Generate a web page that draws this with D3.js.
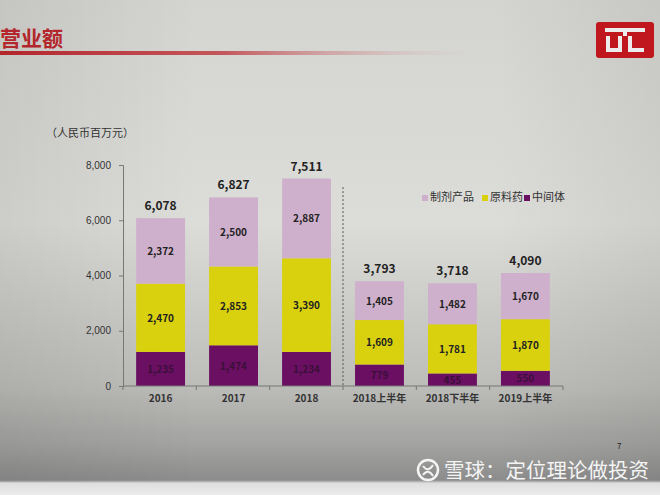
<!DOCTYPE html>
<html>
<head>
<meta charset="utf-8">
<script src="https://cdn.jsdelivr.net/npm/d3@7"></script>
<style>
  body { margin: 0; padding: 0; overflow: hidden; }
  svg { display: block; font-family: "Noto Sans CJK SC", "Noto Sans", sans-serif; }
</style>
</head>
<body>
<svg width="660" height="495"></svg>
<script>
const categories = ["2016", "2017", "2018", "2018上半年", "2018下半年", "2019上半年"];
const seriesNames = ["中间体", "原料药", "制剂产品"];
const intermediate = [1235, 1474, 1234, 779, 455, 550];
const api = [2470, 2853, 3390, 1609, 1781, 1870];
const formulation = [2372, 2500, 2887, 1405, 1482, 1670];
const totals = [6078, 6827, 7511, 3793, 3718, 4090];
const yTicks = [0, 2000, 4000, 6000, 8000];
const legendOrder = ["制剂产品", "原料药", "中间体"];

const colors = d3.scaleOrdinal()
  .domain(seriesNames)
  .range(["#6b0f63", "#d9d10e", "#cfb0cc"]);

let svg = d3.select("svg");
let defs = svg.append("defs");

// photo-like page background
let bg = defs.append("linearGradient").attr("id", "bg").attr("x1", 0).attr("y1", 0).attr("x2", 0).attr("y2", 1);
bg.append("stop").attr("offset", "0%").attr("stop-color", "#d4d5d1");
bg.append("stop").attr("offset", "45%").attr("stop-color", "#dcdcd8");
bg.append("stop").attr("offset", "78%").attr("stop-color", "#bcbcb9");
bg.append("stop").attr("offset", "90%").attr("stop-color", "#a2a2a0");
bg.append("stop").attr("offset", "97%").attr("stop-color", "#8c8c8c");
bg.append("stop").attr("offset", "97.6%").attr("stop-color", "#dedede");
bg.append("stop").attr("offset", "100%").attr("stop-color", "#ececec");

let lg = defs.append("linearGradient").attr("id", "redline").attr("x1", 0).attr("y1", 0).attr("x2", 1).attr("y2", 0);
lg.append("stop").attr("offset", "0%").attr("stop-color", "#b3262c");
lg.append("stop").attr("offset", "45%").attr("stop-color", "#c4585c");
lg.append("stop").attr("offset", "100%").attr("stop-color", "#d8d8d8").attr("stop-opacity", 0);

let sideShade = defs.append("linearGradient").attr("id", "side").attr("x1", 0).attr("y1", 0).attr("x2", 1).attr("y2", 0);
sideShade.append("stop").attr("offset", "0%").attr("stop-color", "#000").attr("stop-opacity", 0.07);
sideShade.append("stop").attr("offset", "30%").attr("stop-color", "#000").attr("stop-opacity", 0);
sideShade.append("stop").attr("offset", "75%").attr("stop-color", "#000").attr("stop-opacity", 0);
sideShade.append("stop").attr("offset", "100%").attr("stop-color", "#000").attr("stop-opacity", 0.06);

svg.append("rect").attr("width", 660).attr("height", 495).attr("fill", "url(#bg)");
svg.append("rect").attr("width", 660).attr("height", 482).attr("fill", "url(#side)");

// header
svg.append("text").attr("x", 0).attr("y", 46)
  .attr("fill", "#b3262c").attr("font-size", 21).attr("font-weight", "bold")
  .text("营业额");
svg.append("rect").attr("x", 0).attr("y", 51).attr("width", 500).attr("height", 4).attr("fill", "url(#redline)");

// logo
let logo = svg.append("g").attr("transform", "translate(596,22)");
logo.append("rect").attr("width", 58).attr("height", 36).attr("rx", 3).attr("fill", "#c0161e");
logo.append("path").attr("fill", "#ececec")
  .attr("d", "M9,6 H49 V10 H31 V14 H27 V10 H9 Z M10,14 H14 V26 H22 V14 H26 V30 H10 Z M32,14 H36 V26 H48 V30 H32 Z");

// chart
let margin = {top: 165, left: 123};
let width = 440, height = 221;
let g = svg.append("g").attr("transform", "translate(" + margin.left + "," + margin.top + ")");

let x = d3.scaleBand().domain(categories).range([0, width]).paddingInner(0.33).paddingOuter(0.18);
let y = d3.scaleLinear().domain([0, 8000]).range([height, 0]);

let table = categories.map((c, i) => ({
  cat: c, "中间体": intermediate[i], "原料药": api[i], "制剂产品": formulation[i]
}));
let stacked = d3.stack().keys(seriesNames)(table);

g.selectAll(".series")
  .data(stacked)
  .enter().append("g")
  .attr("class", "series")
  .attr("fill", d => colors(d.key))
  .selectAll("rect")
  .data(d => d)
  .enter().append("rect")
  .attr("x", d => x(d.data.cat))
  .attr("y", d => y(d[1]))
  .attr("height", d => y(d[0]) - y(d[1]))
  .attr("width", x.bandwidth());

// segment labels
stacked.forEach(s => {
  g.selectAll(".lbl-" + s.index)
    .data(s)
    .enter().append("text")
    .attr("x", d => x(d.data.cat) + x.bandwidth() / 2)
    .attr("y", d => (y(d[0]) + y(d[1])) / 2 + 4)
    .attr("text-anchor", "middle")
    .attr("font-size", 10)
    .attr("font-weight", "bold")
    .attr("fill", s.key === "中间体" ? "#3a1038" : "#222")
    .text(d => d3.format(",")(d[1] - d[0]));
});

// totals
g.selectAll(".total")
  .data(categories)
  .enter().append("text")
  .attr("x", d => x(d) + x.bandwidth() / 2)
  .attr("y", (d, i) => y(totals[i]) - 8)
  .attr("text-anchor", "middle")
  .attr("font-size", 12)
  .attr("font-weight", "bold")
  .attr("fill", "#222")
  .text((d, i) => d3.format(",")(totals[i]));

// y axis
let yAxis = g.append("g")
  .call(d3.axisLeft(y).tickValues(yTicks).tickFormat(d3.format(",")).tickSize(4).tickPadding(8));
yAxis.select(".domain").attr("stroke", "#777");
yAxis.selectAll(".tick line").attr("stroke", "#777");
yAxis.selectAll("text").attr("font-size", 10).attr("fill", "#333").attr("font-family", "Liberation Sans, sans-serif");

// x axis with boundary ticks
let xAxis = g.append("g").attr("transform", "translate(0," + height + ")");
xAxis.append("line").attr("x1", 0).attr("x2", width).attr("stroke", "#777");
xAxis.selectAll(".bt")
  .data(d3.range(categories.length + 1))
  .enter().append("line")
  .attr("x1", i => i * width / categories.length)
  .attr("x2", i => i * width / categories.length)
  .attr("y1", 0).attr("y2", 4)
  .attr("stroke", "#777");
xAxis.selectAll(".xl")
  .data(categories)
  .enter().append("text")
  .attr("x", d => x(d) + x.bandwidth() / 2)
  .attr("y", 16)
  .attr("text-anchor", "middle")
  .attr("font-size", 10)
  .attr("font-weight", "bold")
  .attr("fill", "#333")
  .text(d => d);

// dashed divider between annual and half-year
let divX = 3 * width / categories.length;
g.append("line")
  .attr("x1", divX).attr("x2", divX)
  .attr("y1", y(7200)).attr("y2", height)
  .attr("stroke", "#555").attr("stroke-dasharray", "2,2");

// unit
svg.append("text").attr("x", 46).attr("y", 137).attr("font-size", 11).attr("fill", "#333")
  .text("（人民币百万元）");

// legend
let legend = svg.append("g").attr("transform", "translate(422,201)");
let lx = [0, 60, 102];
legendOrder.forEach((k, i) => {
  let lgItem = legend.append("g").attr("transform", "translate(" + lx[i] + ",0)");
  lgItem.append("rect").attr("x", 0).attr("y", -6).attr("width", 6).attr("height", 6).attr("fill", colors(k));
  lgItem.append("text").attr("x", 8).attr("y", 0).attr("font-size", 11).attr("fill", "#333").text(k);
});

// page number
svg.append("text").attr("x", 617).attr("y", 449).attr("font-size", 8).attr("fill", "#222").text("7");

// watermark
let wm = svg.append("g").attr("transform", "translate(428,478)");
wm.append("circle").attr("cx", 0).attr("cy", -8).attr("r", 10).attr("fill", "none").attr("stroke", "#f4f4f4").attr("stroke-width", 2.5);
wm.append("path").attr("d", "M-5,-12 Q0,-5 5,-13 M-5,-3 Q0,-10 5,-2").attr("fill", "none").attr("stroke", "#f4f4f4").attr("stroke-width", 2);
wm.append("text").attr("x", 16).attr("y", 0).attr("font-size", 20.5).attr("fill", "#f4f4f4")
  .text("雪球：定位理论做投资");
</script>
</body>
</html>
